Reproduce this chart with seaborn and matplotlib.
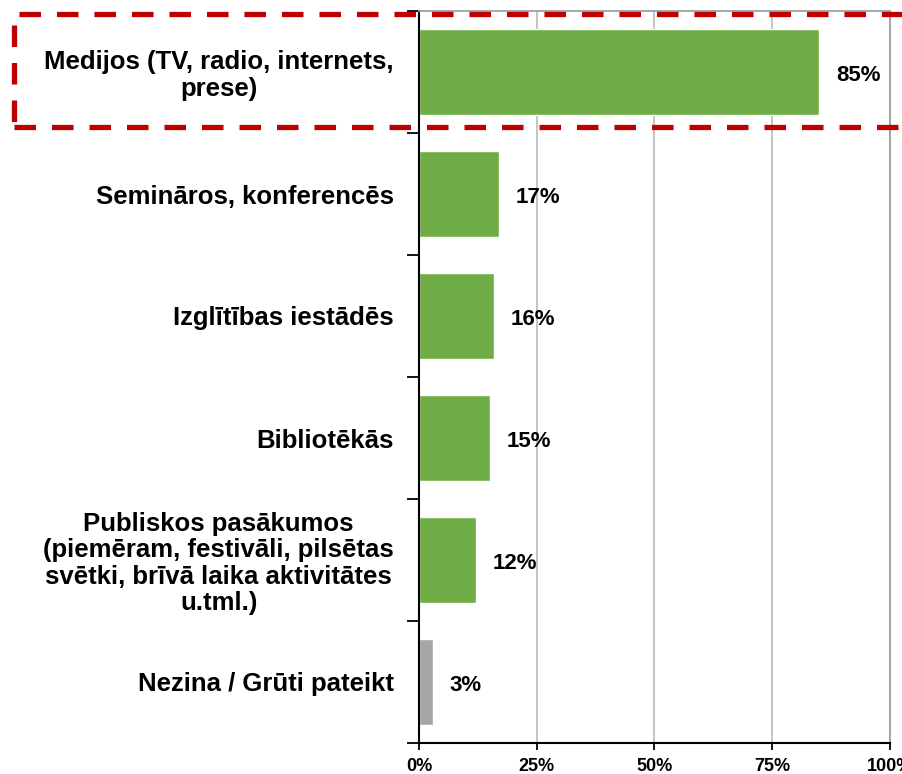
import matplotlib
matplotlib.use('Agg')
import matplotlib.pyplot as plt
import matplotlib.patches as mpatches
import seaborn as sns
import pandas as pd
import numpy as np

categories = ['Medijos (TV, radio, internets,\nprese)',
              'Semināros, konferencēs',
              'Izglītības iestādēs',
              'Bibliotēkās',
              'Publiskos pasākumos\n(piemēram, festivāli, pilsētas\nsvētki, brīvā laika aktivitātes\nu.tml.)',
              'Nezina / Grūti pateikt']
values = [0.85, 0.17, 0.16, 0.15, 0.12, 0.03]
value_labels = ['85%', '17%', '16%', '15%', '12%', '3%']
bar_colors = ['#70AD47', '#70AD47', '#70AD47', '#70AD47', '#70AD47', '#A6A6A6']
x_ticks = [0, 0.25, 0.5, 0.75, 1.0]
x_tick_labels = ['0%', '25%', '50%', '75%', '100%']

sns.set_theme(style='white')
plt.rcParams['font.family'] = ['Liberation Sans', 'DejaVu Sans']
plt.rcParams['lines.scale_dashes'] = False
plt.rcParams['text.color'] = 'black'
plt.rcParams['xtick.labelcolor'] = 'black'
plt.rcParams['ytick.labelcolor'] = 'black'

df = pd.DataFrame({'cat': categories, 'val': values})

fig = plt.figure(figsize=(9.03, 7.74), dpi=100)
ax = fig.add_axes([419/903, 31/774, 471/903, 732/774])

sns.barplot(data=df, y='cat', x='val', color='#70AD47', width=0.71,
            saturation=1, ax=ax, orient='h')
for patch, c in zip(ax.patches, bar_colors):
    patch.set_facecolor(c)

ax.set_xlim(0, 1)
ax.set_ylim(5.5, -0.5)
ax.set_xlabel('')
ax.set_ylabel('')

# gridlines and frame
ax.set_xticks(x_ticks)
ax.set_xticklabels(x_tick_labels, fontsize=13, fontweight='bold', color='black')
ax.xaxis.grid(True, color='#BFBFBF', linewidth=1.3)
ax.set_axisbelow(True)
for s in ['top', 'right']:
    ax.spines[s].set_color('#A0A0A0')
    ax.spines[s].set_linewidth(1.3)
for s in ['left', 'bottom']:
    ax.spines[s].set_color('black')
    ax.spines[s].set_linewidth(1.5)

ax.tick_params(axis='x', which='major', length=5, width=1.3, color='black',
               direction='out', bottom=True, pad=6)
ax.tick_params(axis='y', which='major', length=0, pad=18)
ax.set_yticks(np.arange(-0.5, 6, 1), minor=True)
ax.tick_params(axis='y', which='minor', length=9, width=1.3, color='black',
               direction='out', left=True)

for lbl in ax.get_yticklabels():
    lbl.set_fontsize(18.5)
    lbl.set_fontweight('bold')
    lbl.set_color('black')
    lbl.set_multialignment('center')
    lbl.set_linespacing(1.13)

texts = ax.bar_label(ax.containers[0], labels=value_labels, padding=12,
                     fontsize=16, fontweight='bold', color='black')
for t in texts:
    t.set_y(-2.5)

# red dashed highlight around first category
rect = mpatches.Rectangle((14/903, (774-127)/774), 1.0, 113/774,
                          transform=fig.transFigure, fill=False,
                          edgecolor='#C00000', linewidth=3.8,
                          linestyle=(0, (15.5, 11.5)), clip_on=False,
                          zorder=10)
fig.patches.append(rect)

fig.savefig('out.png', dpi=100)
